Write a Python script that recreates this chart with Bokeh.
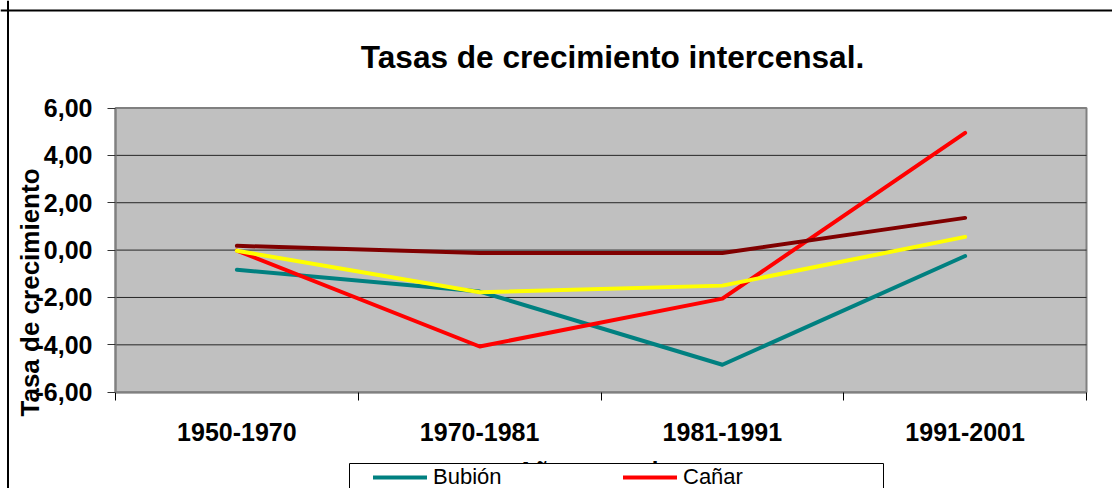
import math
from bokeh.plotting import figure
from bokeh.models import (Range1d, FixedTicker, Legend, LegendItem, Label,
                          BoxAnnotation, Span)
from bokeh.embed import file_html
from bokeh.resources import INLINE

# ---- data ----
periods = ["1950-1970", "1970-1981", "1981-1991", "1991-2001"]
bubion = [-0.83, -1.75, -4.84, -0.25]
canar = [-0.02, -4.07, -2.05, 4.95]
serie3 = [0.18, -0.12, -0.12, 1.36]
serie4 = [-0.03, -1.78, -1.50, 0.56]
y_ticks = [-6, -4, -2, 0, 2, 4, 6]

title_text = "Tasas de crecimiento intercensal."
y_title = "Tasa de crecimiento"
x_title = "Años censales"

FONT = "Liberation Sans"

# ---- layout (canvas pixels) ----
W, H = 1112, 488
PA_L, PA_R, PA_T, PA_B = 115, 1086, 107.5, 391.7   # plot-area edges

n = len(periods)
x = [i + 0.5 for i in range(n)]
ppx = (PA_R - PA_L) / n
x_start = -PA_L / ppx
x_end = n + (W - PA_R) / ppx
ppy = (PA_B - PA_T) / (y_ticks[-1] - y_ticks[0])
y_end = y_ticks[-1] + PA_T / ppy
y_start = y_ticks[0] - (H - PA_B) / ppy

p = figure(width=W, height=H, output_backend="svg", toolbar_location=None,
           title=None, x_range=Range1d(x_start, x_end), y_range=Range1d(y_start, y_end),
           min_border_left=0, min_border_right=0, min_border_top=0, min_border_bottom=0)
p.background_fill_color = "white"
p.border_fill_color = "white"
p.outline_line_color = None
p.grid.visible = False

# outer chart border (top & left, the rest is outside the window)
p.add_layout(Span(location=7.5, location_units="screen", dimension="height",
                  line_color="black", line_width=2))
p.add_layout(Span(location=H - 10, location_units="screen", dimension="width",
                  line_color="black", line_width=2))

# plot area
p.add_layout(BoxAnnotation(left=0, right=n, bottom=y_ticks[0], top=y_ticks[-1],
                           fill_color="#C0C0C0", fill_alpha=1,
                           line_color="#808080", line_alpha=1, line_width=2,
                           level="underlay"))

# gridlines inside the plot area
inner = y_ticks[1:-1]
p.segment(x0=[0] * len(inner), x1=[n] * len(inner), y0=inner, y1=inner,
          line_color="#262626", line_width=1)

# title
p.add_layout(Label(x=612, y=H - 56, x_units="screen", y_units="screen", text=title_text,
                   text_align="center", text_baseline="alphabetic",
                   text_font=FONT, text_font_size="31.6px", text_font_style="bold",
                   text_color="black"))

# x axis
xa = p.xaxis[0]
xa.fixed_location = y_ticks[0]
xa.bounds = (0, n)
xa.ticker = FixedTicker(ticks=x, minor_ticks=list(range(n + 1)))
xa.major_label_overrides = {v: s for v, s in zip(x, periods)}
xa.major_tick_in = 0
xa.major_tick_out = 0
xa.minor_tick_in = 0
xa.minor_tick_out = 8
xa.minor_tick_line_color = "black"
xa.axis_line_color = "#808080"
xa.axis_line_width = 2
xa.major_label_text_font = FONT
xa.major_label_text_font_size = "25px"
xa.major_label_text_font_style = "bold"
xa.major_label_text_color = "black"
xa.major_label_standoff = 23
xa.axis_label = x_title
xa.axis_label_text_font = FONT
xa.axis_label_text_font_size = "24px"
xa.axis_label_text_font_style = "bold"
xa.axis_label_text_color = "black"
xa.axis_label_standoff = 12

# y axis
ya = p.yaxis[0]
ya.fixed_location = 0
ya.bounds = (y_ticks[0], y_ticks[-1])
ya.ticker = FixedTicker(ticks=y_ticks, minor_ticks=[])
ya.major_label_overrides = {v: f"{v:.2f}".replace(".", ",") for v in y_ticks}
ya.major_tick_in = 0
ya.major_tick_out = 8
ya.major_tick_line_color = "#333333"
ya.axis_line_color = "#808080"
ya.axis_line_width = 2
ya.major_label_text_font = FONT
ya.major_label_text_font_size = "25px"
ya.major_label_text_font_style = "bold"
ya.major_label_text_color = "black"
ya.major_label_standoff = 15

# y title
p.add_layout(Label(x=29, y=H - 292, x_units="screen", y_units="screen", text=y_title,
                   angle=math.pi / 2, text_align="center", text_baseline="alphabetic",
                   text_font=FONT, text_font_size="26px", text_font_style="bold",
                   text_color="black"))

# lines
common = dict(line_width=4, line_cap="round", line_join="round")
r1 = p.line(x, bubion, line_color="#008080", **common)
r2 = p.line(x, canar, line_color="#FF0000", **common)
r3 = p.line(x, serie3, line_color="#800000", **common)
r4 = p.line(x, serie4, line_color="#FFFF00", **common)

# legend box (continues below the window) and legend
p.add_layout(BoxAnnotation(left=349, right=883, top=H - 463, bottom=-20,
                           left_units="screen", right_units="screen",
                           top_units="screen", bottom_units="screen",
                           fill_color="white", fill_alpha=1,
                           line_color="black", line_alpha=1, line_width=1))
legend = Legend(items=[LegendItem(label="Bubión", renderers=[r1]),
                       LegendItem(label="Cañar", renderers=[r2])],
                orientation="horizontal", location=(373, -2),
                glyph_width=54, glyph_height=20, label_standoff=6,
                label_width=180, spacing=10, padding=0, margin=0,
                border_line_color=None, background_fill_alpha=0,
                label_text_font=FONT, label_text_font_size="22px",
                label_text_color="black")
p.add_layout(legend, "center")

open("out.html", "w").write(file_html(p, INLINE))
